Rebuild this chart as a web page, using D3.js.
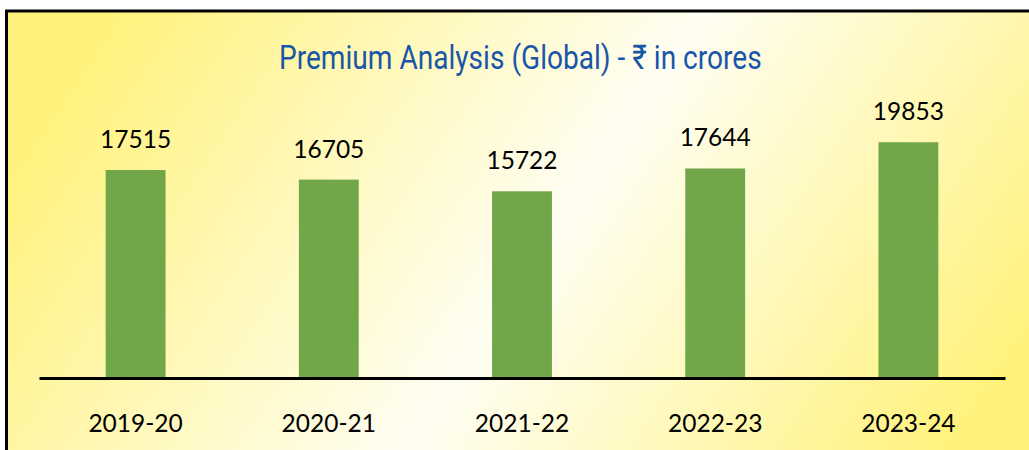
<!DOCTYPE html>
<html><head><meta charset="utf-8">
<script src="https://cdn.jsdelivr.net/npm/d3@7"></script>
<style>html,body{margin:0;padding:0;background:#fff;}svg{display:block;}</style>
</head><body>
<script>
const categories = ["2019-20","2020-21","2021-22","2022-23","2023-24"];
const values = [17515,16705,15722,17644,19853];
const title = "Premium Analysis (Global) - ₹ in crores";

const W = 1029, H = 450;
const svg = d3.select("body").append("svg").attr("width", W).attr("height", H);
const defs = svg.append("defs");
const g = defs.append("linearGradient").attr("id","bg")
  .attr("x1","0%").attr("y1","35%").attr("x2","100%").attr("y2","65%");
g.append("stop").attr("offset","0%").attr("stop-color","#fff27c");
g.append("stop").attr("offset","52%").attr("stop-color","#fffef3");
g.append("stop").attr("offset","100%").attr("stop-color","#fff27c");

svg.append("rect").attr("x",6.5).attr("y",11).attr("width",W+10).attr("height",H+10)
  .attr("fill","url(#bg)").attr("stroke","#000").attr("stroke-width",3);

const x = d3.scaleBand().domain(categories).range([39,1005]).paddingInner(0.69).paddingOuter(0.345);
const y = d3.scaleLinear().domain([0,20000]).range([378,140.5]);

svg.selectAll("rect.bar").data(values).join("rect").attr("class","bar")
  .attr("x",(d,i)=>x(categories[i])).attr("width",x.bandwidth())
  .attr("y",d=>y(d)).attr("height",d=>y(0)-y(d)).attr("fill","#71a748");

svg.selectAll("text.val").data(values).join("text").attr("class","val")
  .attr("x",(d,i)=>x(categories[i])+x.bandwidth()/2).attr("y",d=>y(d)-22)
  .attr("text-anchor","middle").attr("font-family","Lato, 'Open Sans', sans-serif")
  .attr("font-size",24.5).attr("fill","#000").text(d=>d);

const axis = d3.axisBottom(x).tickSize(0).tickPadding(0);
const ax = svg.append("g").attr("transform","translate(0,378)").call(axis);
ax.select(".domain").attr("stroke","#000").attr("stroke-width",3);
ax.selectAll("text").attr("dy",null).attr("y",54)
  .attr("font-family","Lato, 'Open Sans', sans-serif").attr("font-size",24.5).attr("fill","#000");

const tg = svg.append("g");
const t = tg.append("text").attr("x",0).attr("y",0).attr("text-anchor","start")
  .attr("font-family","'Liberation Sans Narrow', Roboto, sans-serif")
  .attr("font-size",34).attr("fill","#1a56a8").text(title);
const tl = t.node().getComputedTextLength();
const sx = tl > 0 ? 483 / tl : 1;
tg.attr("transform", `translate(279,69) scale(${sx},1)`);
</script>
</body></html>
